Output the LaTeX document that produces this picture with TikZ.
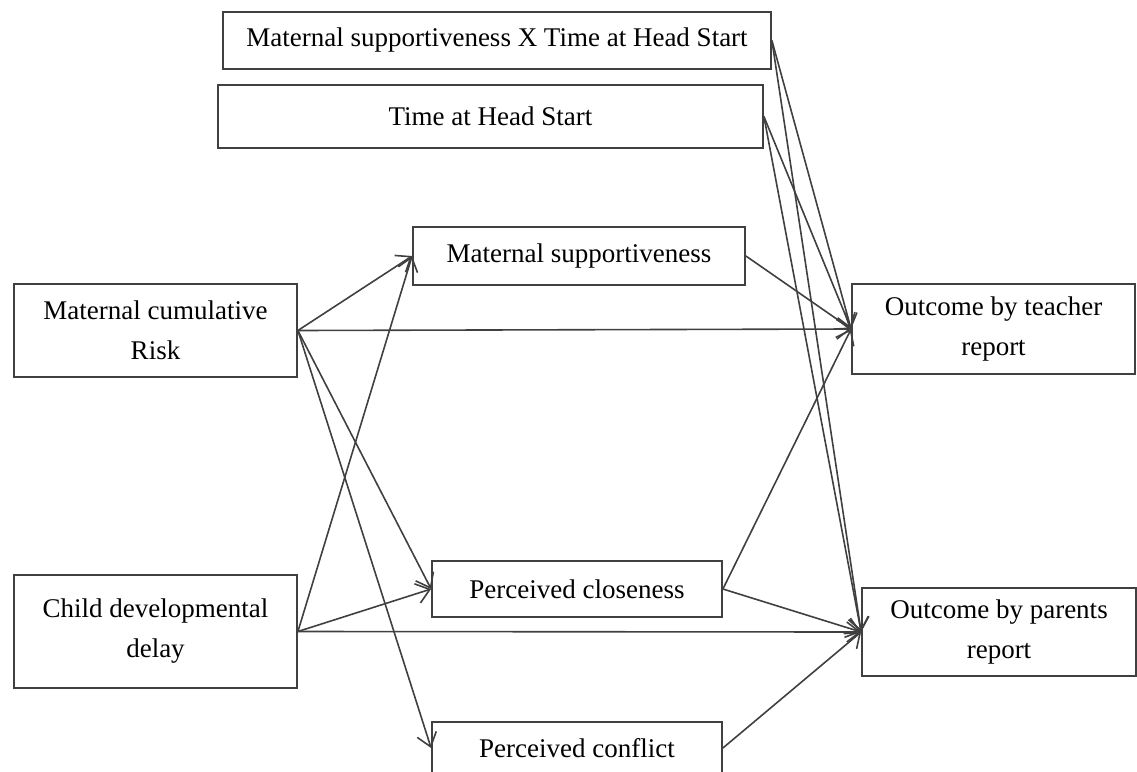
\documentclass[tikz,border=0pt]{standalone}
\usepackage{fontspec}
\setmainfont{Liberation Serif}
\usetikzlibrary{arrows.meta}
\begin{document}
\begin{tikzpicture}[x=1pt,y=-1pt,
  box/.style={draw=black!75, line width=1.8pt, fill=white, inner sep=0pt,
    align=center, font=\fontsize{27}{40}\selectfont},
  link/.style={draw=black!75, line width=1.6pt,
    -{Straight Barb[length=13pt,width=20pt]}}]
\useasboundingbox (0,0) rectangle (1137,771);

% moderator boxes
\node[box, minimum width=548pt, minimum height=57pt] (mxt) at (497,40.5)
  {Maternal supportiveness X Time at Head Start};
\node[box, minimum width=545pt, minimum height=63pt] (ths) at (490.5,116.5)
  {Time at Head Start};

% predictors
\node[box, minimum width=283pt, minimum height=93pt] (mcr) at (155.5,330.5)
  {Maternal cumulative\\Risk};
\node[box, minimum width=283pt, minimum height=113pt] (cdd) at (155.5,631.5)
  {Child developmental\\delay};

% mediators
\node[box, minimum width=332pt, minimum height=58pt] (ms) at (579,256)
  {Maternal supportiveness};
\node[box, minimum width=290pt, minimum height=56pt] (pcl) at (577,589)
  {Perceived closeness};
\node[box, minimum width=290pt, minimum height=52pt] (pcf) at (577,748)
  {Perceived conflict};

% outcomes
\node[box, minimum width=283pt, minimum height=90pt] (ot) at (993.5,329)
  {Outcome by teacher\\report};
\node[box, minimum width=274pt, minimum height=88pt] (op) at (999,632)
  {Outcome by parents\\report};

% paths from maternal cumulative risk
\draw[link] (mcr.east) -- (ms.west);
\draw[link] (mcr.east) -- (ot.west);
\draw[link] (mcr.east) -- (pcl.west);
\draw[link] (mcr.east) -- (pcf.west);

% paths from child developmental delay
\draw[link] (cdd.east) -- (ms.west);
\draw[link] (cdd.east) -- (pcl.west);
\draw[link] (cdd.east) -- (op.west);

% mediators to outcomes
\draw[link] (ms.east) -- (ot.west);
\draw[link] (pcl.east) -- (ot.west);
\draw[link] (pcl.east) -- (op.west);
\draw[link] (pcf.east) -- (op.west);

% moderators to outcomes
\draw[link] (mxt.east) -- (ot.west);
\draw[link] (mxt.east) -- (op.west);
\draw[link] (ths.east) -- (ot.west);
\draw[link] (ths.east) -- (op.west);
\end{tikzpicture}
\end{document}
